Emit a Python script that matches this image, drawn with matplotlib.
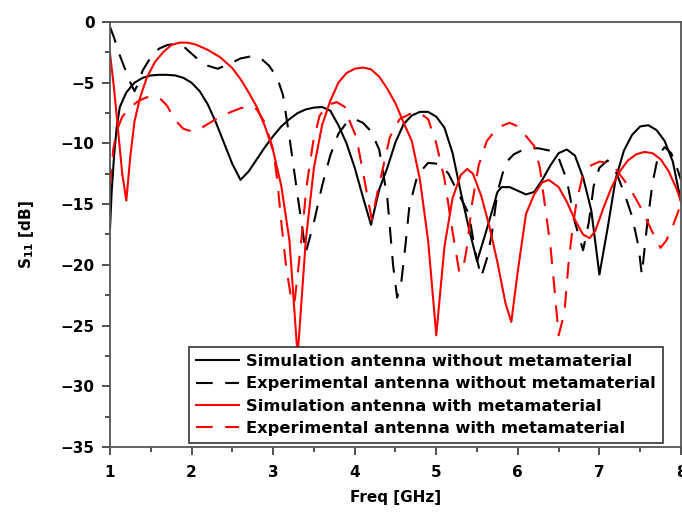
import numpy as np
import matplotlib
matplotlib.use("Agg")
import matplotlib.pyplot as plt

plt.rcParams['font.family'] = ['DejaVu Sans']
plt.rcParams['font.weight'] = 'bold'

# Simulation antenna without metamaterial (black solid)
sim_wo_x = [1.00, 1.02, 1.05, 1.08, 1.12, 1.2, 1.3, 1.4, 1.5, 1.6, 1.7, 1.8, 1.9, 2.0,
            2.1, 2.2, 2.3, 2.4, 2.5, 2.6, 2.7, 2.8, 2.9, 3.0, 3.1, 3.2, 3.3, 3.4, 3.5,
            3.6, 3.7, 3.8, 3.9, 4.0, 4.1, 4.2, 4.3, 4.4, 4.5, 4.6, 4.7, 4.8, 4.9, 5.0,
            5.1, 5.2, 5.3, 5.4, 5.5, 5.6, 5.7, 5.75, 5.8, 5.9, 6.0, 6.1, 6.2, 6.3, 6.4,
            6.5, 6.6, 6.7, 6.8, 6.9, 7.0, 7.1, 7.2, 7.3, 7.4, 7.5, 7.6, 7.7, 7.8, 7.9, 8.0]
sim_wo_y = [-17.0, -14.0, -11.0, -8.8, -7.0, -5.8, -5.0, -4.6, -4.4, -4.35, -4.35, -4.4, -4.6, -5.0,
            -5.7, -6.8, -8.3, -10.0, -11.7, -13.0, -12.3, -11.3, -10.3, -9.4, -8.6, -8.0, -7.5, -7.2, -7.05,
            -7.0, -7.3, -8.5, -10.0, -12.0, -14.4, -16.7, -13.8, -12.0, -9.9, -8.4, -7.7, -7.4, -7.4, -7.8,
            -8.7, -10.8, -14.0, -17.0, -19.7, -17.5, -15.2, -14.0, -13.6, -13.6, -13.9, -14.2, -14.0, -13.0, -11.8,
            -10.8, -10.5, -11.0, -12.8, -15.5, -20.8, -17.0, -12.9, -10.6, -9.3, -8.6, -8.5, -8.9, -9.8, -11.5, -14.8]

# Experimental antenna without metamaterial (black dashed)
exp_wo_x = [1.00, 1.05, 1.1, 1.18, 1.25, 1.3, 1.35, 1.4, 1.5, 1.6, 1.7, 1.8, 1.9, 2.0, 2.1, 2.2,
            2.32, 2.45, 2.6, 2.75, 2.85, 2.95, 3.05, 3.12, 3.2, 3.3, 3.4, 3.5, 3.6, 3.7, 3.8,
            3.9, 4.0, 4.1, 4.2, 4.3, 4.4, 4.47, 4.52, 4.57, 4.62, 4.67, 4.77, 4.9, 5.05, 5.15,
            5.3, 5.4, 5.48, 5.55, 5.62, 5.68, 5.75, 5.85, 5.95, 6.1, 6.25, 6.4, 6.5, 6.6, 6.7,
            6.8, 6.87, 6.93, 7.0, 7.1, 7.2, 7.3, 7.4, 7.48, 7.52, 7.58, 7.65, 7.72, 7.8, 7.88,
            7.95, 8.0]
exp_wo_y = [-0.4, -1.3, -2.4, -3.8, -5.0, -5.7, -5.0, -4.0, -2.9, -2.2, -1.9, -1.8, -2.0, -2.6, -3.2, -3.6,
            -3.85, -3.5, -3.0, -2.8, -3.0, -3.6, -4.6, -6.0, -9.5, -14.3, -19.0, -16.5, -13.5, -11.0, -9.2,
            -8.3, -8.0, -8.3, -9.0, -10.5, -14.5, -20.0, -22.7, -21.5, -18.5, -15.2, -12.6, -11.6, -11.7, -12.5,
            -14.5, -15.8, -19.0, -21.0, -19.5, -17.5, -14.0, -11.6, -10.9, -10.4, -10.4, -10.6, -11.2, -13.0, -16.5,
            -18.8, -16.5, -13.5, -12.0, -11.4, -12.3, -14.0, -16.0, -18.5, -20.8, -17.0, -13.3, -11.0, -10.3, -10.8,
            -12.0, -13.0]

# Simulation antenna with metamaterial (red solid)
sim_w_x = [1.00, 1.05, 1.1, 1.15, 1.2, 1.25, 1.3, 1.37, 1.45, 1.55, 1.65, 1.75, 1.85, 1.95, 2.05,
           2.2, 2.35, 2.5, 2.6, 2.7, 2.8, 2.9, 3.0, 3.1, 3.2, 3.3, 3.4, 3.5, 3.6, 3.7, 3.8,
           3.9, 4.0, 4.1, 4.2, 4.3, 4.4, 4.5, 4.6, 4.7, 4.8, 4.9, 5.0, 5.1, 5.2, 5.3, 5.38,
           5.45, 5.55, 5.65, 5.75, 5.85, 5.92, 6.0, 6.1, 6.2, 6.3, 6.38, 6.5, 6.6, 6.7, 6.8,
           6.88, 6.95, 7.05, 7.15, 7.25, 7.35, 7.45, 7.55, 7.65, 7.75, 7.85, 7.95, 8.0]
sim_w_y = [-2.6, -5.5, -9.0, -12.5, -14.7, -11.0, -8.2, -6.2, -4.6, -3.3, -2.5, -1.9, -1.7, -1.7, -1.85,
           -2.3, -2.9, -3.8, -4.7, -5.8, -7.0, -8.6, -10.6, -13.5, -18.0, -27.5, -18.0, -12.0, -8.5, -6.5, -5.0,
           -4.2, -3.85, -3.75, -3.9, -4.5, -5.5, -6.7, -8.3, -9.8, -13.0, -18.0, -25.8, -18.5, -14.5, -12.6, -12.1,
           -12.5, -14.3, -16.8, -19.8, -23.2, -24.7, -20.5, -15.8, -14.2, -13.2, -13.0, -13.6, -14.8, -16.3, -17.5,
           -17.8, -17.2, -15.3, -13.6, -12.3, -11.4, -10.9, -10.7, -10.8, -11.3, -12.3, -13.8, -14.8]

# Experimental antenna with metamaterial (red dashed)
exp_w_x = [1.00, 1.04, 1.08, 1.15, 1.25, 1.35, 1.45, 1.6, 1.7, 1.8, 1.9, 2.0, 2.1, 2.2, 2.3, 2.45,
           2.6, 2.72, 2.8, 2.9, 3.0, 3.05, 3.1, 3.16, 3.22, 3.26, 3.3, 3.35, 3.41, 3.49, 3.57,
           3.68, 3.78, 3.88, 3.94, 4.02, 4.1, 4.16, 4.21, 4.28, 4.34, 4.43, 4.55, 4.7, 4.8, 4.9,
           5.0, 5.1, 5.2, 5.28, 5.32, 5.37, 5.44, 5.52, 5.62, 5.75, 5.9, 6.0, 6.1, 6.2, 6.27,
           6.33, 6.4, 6.45, 6.5, 6.57, 6.62, 6.67, 6.72, 6.8, 6.9, 7.0, 7.1, 7.2, 7.3, 7.4,
           7.5, 7.6, 7.7, 7.75, 7.82, 7.9, 8.0]
exp_w_y = [-13.5, -10.5, -9.0, -7.8, -7.0, -6.5, -6.2, -6.2, -6.9, -8.1, -8.8, -9.0, -8.8, -8.4, -8.0, -7.5,
           -7.1, -6.9, -7.2, -8.3, -10.5, -13.0, -16.5, -20.2, -22.7, -23.2, -20.8, -17.7, -13.5, -9.9, -7.7,
           -6.8, -6.6, -7.0, -8.2, -9.5, -12.3, -14.5, -16.3, -14.0, -12.2, -9.5, -8.0, -7.5, -7.5, -8.0,
           -10.0, -12.9, -17.3, -20.5, -20.6, -18.8, -14.9, -11.8, -9.8, -8.7, -8.3, -8.6, -9.4, -10.2, -12.0,
           -15.0, -18.5, -22.0, -25.8, -24.0, -20.0, -17.0, -14.8, -12.5, -11.8, -11.5, -11.6, -12.1, -13.0, -14.0,
           -15.2, -16.6, -18.0, -18.6, -18.0, -16.8, -15.0]

labels = ["Simulation antenna without metamaterial",
          "Experimental antenna without metamaterial",
          "Simulation antenna with metamaterial",
          "Experimental antenna with metamaterial"]

fig = plt.figure(figsize=(6.82, 5.13), dpi=100)
ax = fig.add_axes([0.1613, 0.1287, 0.8372, 0.8284])

lw = 1.5
ax.plot(sim_wo_x, sim_wo_y, color='black', lw=lw, label=labels[0])
ax.plot(exp_wo_x, exp_wo_y, color='black', lw=lw, dashes=(8, 6), label=labels[1])
ax.plot(sim_w_x, sim_w_y, color='red', lw=lw, label=labels[2])
ax.plot(exp_w_x, exp_w_y, color='red', lw=lw, dashes=(8, 6), label=labels[3])

ax.set_xlim(1, 8)
ax.set_ylim(-35, 0)
ax.set_xticks(np.arange(1, 9, 1))
ax.set_xticks(np.arange(1.5, 8, 1), minor=True)
ax.set_yticks(np.arange(-35, 1, 5))
ax.set_yticks(np.arange(-32.5, 0, 5), minor=True)
ax.tick_params(which='major', direction='out', length=6, width=1.2, labelsize=11, color='#333333')
ax.tick_params(which='minor', direction='out', length=3.5, width=1.2, color='#333333')
ax.tick_params(axis='x', pad=7)
ax.tick_params(axis='y', pad=5)
for lab in ax.get_xticklabels() + ax.get_yticklabels():
    lab.set_fontweight('bold')
for sp in ax.spines.values():
    sp.set_color('#555555')
    sp.set_linewidth(1.3)

ax.set_xlabel('Freq [GHz]', fontsize=11, fontweight='bold', labelpad=7)
ax.set_ylabel(r'S$_{\mathbf{11}}$ [dB]', fontsize=11, fontweight='bold')
ax.yaxis.set_label_coords(-0.13, 0.5)

leg = ax.legend(loc='lower right', bbox_to_anchor=(0.968, 0.009), borderaxespad=0,
                fancybox=False, framealpha=1, edgecolor='#333333',
                prop={'size': 11.7, 'weight': 'bold'}, handlelength=2.65,
                handletextpad=0.4, labelspacing=0.45, borderpad=0.45)
leg.get_frame().set_linewidth(1.2)
leg.set_zorder(5)

fig.savefig('out.png', dpi=100)
